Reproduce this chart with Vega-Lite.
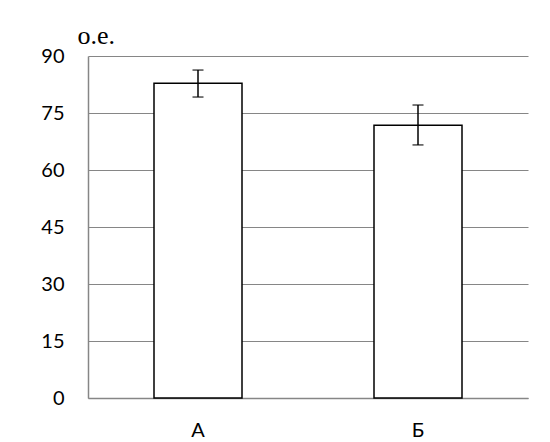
{
  "$schema": "https://vega.github.io/schema/vega-lite/v6.json",
  "width": 440,
  "height": 342,
  "autosize": {"type": "none"},
  "padding": {"left": 88, "top": 56, "right": 22, "bottom": 44},
  "background": "white",
  "config": {"view": {"stroke": null}},
  "data": {
    "values": [
      {"group": "А", "value": 82.8, "lo": 79.2, "hi": 86.3},
      {"group": "Б", "value": 71.8, "lo": 66.6, "hi": 77.1}
    ]
  },
  "encoding": {
    "x": {
      "field": "group",
      "type": "nominal",
      "sort": null,
      "scale": {"paddingInner": 0.6, "paddingOuter": 0.3},
      "axis": {
        "title": null,
        "labelAngle": 0,
        "ticks": false,
        "domainColor": "#868686",
        "domainWidth": 1.5,
        "labelFont": "Lato",
        "labelFontSize": 20,
        "labelColor": "black",
        "labelPadding": 22
      }
    }
  },
  "layer": [
    {
      "mark": {"type": "bar", "fill": "white", "stroke": "black", "strokeWidth": 1.5},
      "encoding": {
        "y": {
          "field": "value",
          "type": "quantitative",
          "scale": {"domain": [0, 90]},
          "axis": {
            "values": [0, 15, 30, 45, 60, 75, 90],
            "grid": true,
            "gridColor": "#868686",
            "gridWidth": 1.2,
            "domainColor": "#868686",
            "domainWidth": 1.5,
            "ticks": false,
            "labelFont": "Lato",
            "labelFontSize": 20,
            "labelColor": "black",
            "labelPadding": 24,
            "title": "о.е.",
            "titleAngle": 0,
            "titleX": -11,
            "titleY": -13,
            "titleAlign": "left",
            "titleBaseline": "alphabetic",
            "titleFont": "Liberation Serif",
            "titleFontSize": 26,
            "titleFontWeight": "normal",
            "titleColor": "black"
          }
        }
      }
    },
    {
      "mark": {"type": "rule", "stroke": "black", "strokeWidth": 1.5},
      "encoding": {
        "y": {"field": "lo", "type": "quantitative"},
        "y2": {"field": "hi"}
      }
    },
    {
      "mark": {"type": "tick", "color": "black", "thickness": 1.5, "size": 11},
      "encoding": {"y": {"field": "lo", "type": "quantitative"}}
    },
    {
      "mark": {"type": "tick", "color": "black", "thickness": 1.5, "size": 11},
      "encoding": {"y": {"field": "hi", "type": "quantitative"}}
    }
  ]
}
